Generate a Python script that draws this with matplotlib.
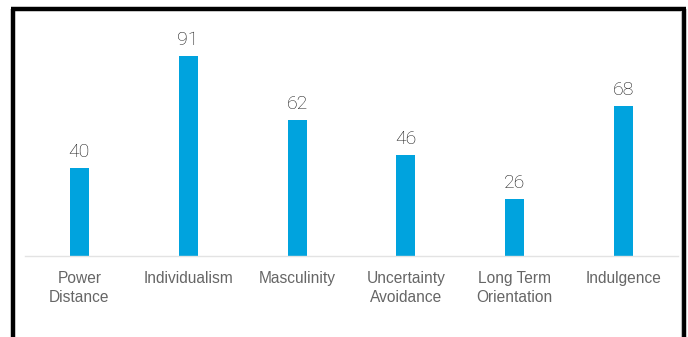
import matplotlib.pyplot as plt
from matplotlib.lines import Line2D

categories = ['Power\nDistance', 'Individualism', 'Masculinity', 'Uncertainty\nAvoidance',
              'Long Term\nOrientation', 'Indulgence']
scores = [40, 91, 62, 46, 26, 68]

W, H = 688, 337
fig = plt.figure(figsize=(W / 100, H / 100), dpi=100)
ax = fig.add_axes([25 / W, 81 / H, 653 / W, 220 / H])

x = list(range(len(categories)))
ax.bar(x, scores, width=0.175, color='#00A3DE')
for xi, v in zip(x, scores):
    ax.text(xi, v + 3.2, str(v), ha='center', va='bottom', fontsize=14,
            family='Roboto', fontweight='light', color='#1a1a1a')

ax.set_xlim(-0.5, len(categories) - 0.5)
ax.set_ylim(0, 100)
ax.set_xticks(x)
ax.set_xticklabels(categories, fontsize=11.2, family='Liberation Sans',
                   color='#666666', linespacing=1.35)
ax.tick_params(axis='x', length=0, pad=11)
ax.set_yticks([])
for s in ['top', 'left', 'right']:
    ax.spines[s].set_visible(False)
ax.spines['bottom'].set_color('#e3e3e3')
ax.spines['bottom'].set_linewidth(1)

# black frame of the screenshot (left, top, right; open at the bottom)
def px(xp, yp):
    return xp / W, 1 - yp / H

for (x0, y0), (x1, y1) in [((13, 9), (13, H)), ((11, 9), (686, 9)), ((684, 9), (684, H))]:
    a, b = px(x0, y0)
    c, d = px(x1, y1)
    fig.add_artist(Line2D([a, c], [b, d], transform=fig.transFigure,
                          color='black', linewidth=3.2, solid_capstyle='butt'))
a, b = px(681, 11)
c, d = px(681, H)
fig.add_artist(Line2D([a, c], [b, d], transform=fig.transFigure, color='#bbbbbb', linewidth=0.8))

fig.savefig('out.png', dpi=100)
